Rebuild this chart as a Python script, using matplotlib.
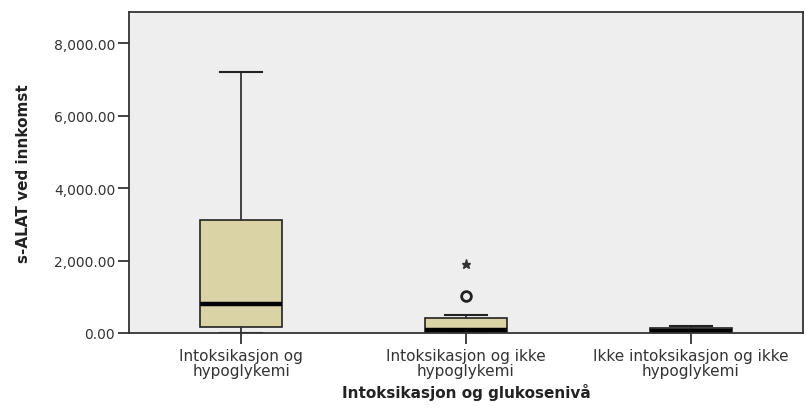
import matplotlib
matplotlib.use("Agg")
import matplotlib.pyplot as plt
from matplotlib.ticker import FuncFormatter

categories = [
    "Intoksikasjon og\nhypoglykemi",
    "Intoksikasjon og ikke\nhypoglykemi",
    "Ikke intoksikasjon og ikke\nhypoglykemi",
]
whisker_low = [5, 5, 5]
q1 = [175, 30, 30]
median = [790, 80, 60]
q3 = [3110, 417, 130]
whisker_high = [7200, 500, 180]
outliers = [[], [1010], []]
extremes = [[], [1900], []]

y_ticks = [0, 2000, 4000, 6000, 8000]

fig = plt.figure(figsize=(8.06, 4.10), dpi=100)
ax = fig.add_axes([0.160, 0.1854, 0.8363, 0.7829])
ax.set_facecolor("#EEEEEE")

stats = []
for i in range(len(categories)):
    stats.append(dict(med=median[i], q1=q1[i], q3=q3[i],
                      whislo=whisker_low[i], whishi=whisker_high[i],
                      fliers=[]))

positions = list(range(1, len(categories) + 1))
ax.bxp(stats, positions=positions, widths=0.366, patch_artist=True,
       showfliers=False,
       boxprops=dict(facecolor="#D9D3A5", edgecolor="#222222", linewidth=1.2),
       medianprops=dict(color="black", linewidth=3.2, solid_capstyle="butt"),
       whiskerprops=dict(color="#333333", linewidth=1.3),
       capprops=dict(color="#222222", linewidth=1.5),
       capwidths=0.1875)

for p, vals in zip(positions, outliers):
    if vals:
        ax.plot([p] * len(vals), vals, linestyle="none", marker="o",
                markersize=7, markerfacecolor="none",
                markeredgecolor="#222222", markeredgewidth=2)
for p, vals in zip(positions, extremes):
    if vals:
        ax.plot([p] * len(vals), vals, linestyle="none", marker="*",
                markersize=6.5, color="#333333")

ax.set_xlim(0.5, 3.5)
ax.set_ylim(0, 8870)
ax.set_yticks(y_ticks)
ax.yaxis.set_major_formatter(FuncFormatter(lambda v, _: f"{v:,.2f}"))
ax.set_xticks(positions)
ax.set_xticklabels(categories, linespacing=0.95)

ax.tick_params(axis="both", colors="#333333", labelcolor="#333333",
               length=8, width=1.3)
ax.tick_params(axis="x", labelsize=11, pad=3)
ax.tick_params(axis="y", labelsize=10, pad=2)
for s in ax.spines.values():
    s.set_color("#333333")
    s.set_linewidth(1.3)

ax.set_ylabel("s-ALAT ved innkomst", fontsize=11, fontweight="bold",
              color="#222222", labelpad=16)
ax.set_xlabel("Intoksikasjon og glukosenivå", fontsize=11, fontweight="bold",
              color="#222222", labelpad=4)

fig.savefig("out.png", dpi=100)
